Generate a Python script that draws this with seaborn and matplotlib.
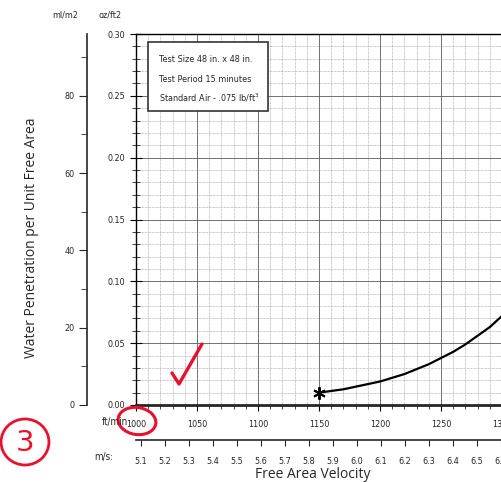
import matplotlib
matplotlib.use('Agg')
import matplotlib.pyplot as plt
import seaborn as sns
import numpy as np
import pandas as pd
from matplotlib.patches import Ellipse, Circle, Rectangle
from matplotlib.lines import Line2D

# curve (ft/min vs oz/ft2)
velocity = [1150, 1170, 1200, 1220, 1240, 1250, 1260, 1270, 1280, 1290, 1300]
penetration = [0.010, 0.0127, 0.019, 0.025, 0.033, 0.038, 0.043, 0.049, 0.056, 0.063, 0.072]
ftmin_ticks = [1000, 1050, 1100, 1150, 1200, 1250, 1300]
ms_ticks = [5.1, 5.2, 5.3, 5.4, 5.5, 5.6, 5.7, 5.8, 5.9, 6.0, 6.1, 6.2, 6.3, 6.4, 6.5, 6.6]
oz_ticks = [0.00, 0.05, 0.10, 0.15, 0.20, 0.25, 0.30]
ml_ticks = [0, 20, 40, 60, 80]
box_lines = ['Test Size 48 in. x 48 in.', 'Test Period 15 minutes',
             'Standard Air - .075 lb/ft$^3$']

df = pd.DataFrame({'velocity': velocity, 'penetration': penetration})

sns.set_style('ticks')
plt.rcParams['font.family'] = ['DejaVu Sans']
plt.rcParams['font.stretch'] = 'condensed'

W, H = 502, 482
fig = plt.figure(figsize=(W / 100, H / 100), dpi=100)


def fx(px):
    return px / W


def fy(py):
    return 1 - py / H


ax = fig.add_axes([fx(136), fy(405), fx(502) - fx(136), fy(34) - fy(405)])

sns.lineplot(data=df, x='velocity', y='penetration', ax=ax, color='black', lw=1.6)
ax.plot(velocity[0], penetration[0], marker=(6, 2, 0), color='black', ms=9, mew=1.4)

ax.set_xlim(1000, 1300)
ax.set_ylim(0, 0.30)
ax.set_xticks(ftmin_ticks)
ax.set_xticks(np.arange(1000, 1301, 10), minor=True)
ax.set_yticks(oz_ticks)
ax.set_yticks(np.arange(0, 0.301, 0.01), minor=True)
ax.set_yticklabels([f'{v:.2f}' for v in oz_ticks])
ax.grid(which='major', color='0.35', lw=0.6)
ax.grid(which='minor', color='0.6', lw=0.5, ls=(0, (1, 1)))
ax.tick_params(axis='both', which='major', labelsize=6.5, color='black')
ax.tick_params(axis='y', which='major', direction='inout', length=8, pad=4)
ax.tick_params(axis='y', which='minor', direction='inout', length=6)
ax.tick_params(axis='x', which='major', direction='out', length=4, pad=7)
ax.tick_params(axis='x', which='minor', direction='out', length=3)
ax.set_xlabel('')
ax.set_ylabel('')
ax.spines['bottom'].set_linewidth(2)
ax.spines['right'].set_visible(False)
for s in ['top', 'left']:
    ax.spines[s].set_linewidth(1)
    ax.spines[s].set_color('black')

# ml/m2 axis on the far left
ml = ax.secondary_yaxis((87 - 136) / 366, functions=(lambda y: y * 320, lambda v: v / 320))
ml.set_yticks(ml_ticks)
ml.set_yticks([10, 30, 50, 70, 90], minor=True)
ml.tick_params(which='major', length=6, labelsize=6.5, pad=3)
ml.tick_params(which='minor', length=4)
ml.spines['left'].set_linewidth(1.2)

# m/s axis below
ms = ax.secondary_xaxis((405 - 440) / 371, functions=(lambda v: v * 0.00508, lambda m: m / 0.00508))
ms.set_xticks(ms_ticks)
ms.set_xticklabels([f'{v:.1f}' for v in ms_ticks])
ms.tick_params(length=4, labelsize=6.5, pad=8)
ms.spines['bottom'].set_linewidth(1.2)

# info box
ax.add_patch(Rectangle((fx(148), fy(111)), fx(268) - fx(148), fy(42) - fy(111),
                       transform=fig.transFigure, facecolor='white', edgecolor='0.2',
                       lw=1.2, zorder=5))
for txt, py in zip(box_lines, [59, 79, 98]):
    fig.text(fx(159), fy(py), txt, fontsize=6.5, va='center', zorder=6)

fig.text(fx(65), fy(15), 'ml/m2', fontsize=6.5, ha='center', va='center')
fig.text(fx(110), fy(15), 'oz/ft2', fontsize=6.5, ha='center', va='center')
fig.text(fx(128), fy(422), 'ft/min', fontsize=7, ha='right', va='center')
fig.text(fx(113), fy(457), 'm/s:', fontsize=7, ha='right', va='center')
fig.text(fx(32), fy(238), 'Water Penetration per Unit Free Area', rotation=90,
         fontsize=10, ha='center', va='center', family='Open Sans', stretch='normal')
fig.text(fx(313), fy(475), 'Free Area Velocity', fontsize=10, ha='center',
         va='center', family='Open Sans', stretch='normal')

# red handwritten marks
red = '#e8112d'
fig.add_artist(Ellipse((fx(137), fy(421)), fx(38), 27 / H, angle=-10,
                       transform=fig.transFigure, fill=False, ec=red, lw=2.2))
fig.add_artist(Circle((fx(25), fy(442)), 23 / H, transform=fig.transFigure,
                      fill=False, ec=red, lw=2))
fig.text(fx(25), fy(443), '3', color=red, fontsize=21, ha='center', va='center',
         stretch='normal')
fig.add_artist(Line2D([fx(172), fx(179), fx(202)], [fy(373), fy(384), fy(344)],
                      transform=fig.transFigure, color=red, lw=2.4,
                      solid_capstyle='round', solid_joinstyle='round'))

fig.savefig('out.png', dpi=100)
